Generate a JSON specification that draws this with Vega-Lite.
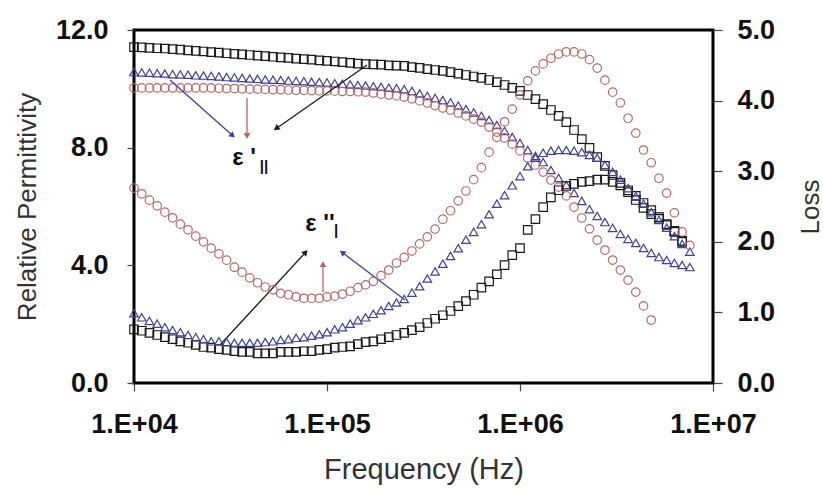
{
  "$schema": "https://vega.github.io/schema/vega-lite/v6.json",
  "width": 579,
  "height": 353,
  "autosize": {"type": "none"},
  "padding": {"left": 134, "top": 30, "right": 110, "bottom": 106},
  "background": "white",
  "config": {
    "view": {"stroke": "#000", "strokeWidth": 3},
    "font": "Liberation Sans",
    "axis": {"grid": false, "domain": false, "labelFont": "Liberation Sans", "labelFontWeight": "bold", "labelFontSize": 27, "labelColor": "#111", "titleFont": "Liberation Sans", "titleFontWeight": "normal", "titleColor": "#333", "titleFontSize": 26, "tickColor": "#444", "tickWidth": 1.2, "labelFlush": false, "labelOverlap": false},
    "axisLeft": {"tickSize": 7, "labelPadding": 19, "titleX": -107, "titleY": 176.5, "titleAngle": 270, "titleAlign": "center", "titleBaseline": "middle"},
    "axisRight": {"tickSize": 9, "labelPadding": 15, "titleX": 97, "titleY": 176.5, "titleAngle": 270, "titleAlign": "center", "titleBaseline": "middle"},
    "axisBottom": {"tickSize": 8, "labelPadding": 20, "titleFontSize": 29, "titleY": 86, "titleBaseline": "middle"}
  },
  "datasets": {
    "pts": [
      {"f":10000,"s":"A","q":"eps","v":11.42},{"f":10965,"s":"A","q":"eps","v":11.41},{"f":12023,"s":"A","q":"eps","v":11.39},{"f":13183,"s":"A","q":"eps","v":11.38},{"f":14454,"s":"A","q":"eps","v":11.37},{"f":15849,"s":"A","q":"eps","v":11.35},{"f":17378,"s":"A","q":"eps","v":11.33},{"f":19055,"s":"A","q":"eps","v":11.31},{"f":20893,"s":"A","q":"eps","v":11.29},{"f":22909,"s":"A","q":"eps","v":11.27},
      {"f":25119,"s":"A","q":"eps","v":11.25},{"f":27542,"s":"A","q":"eps","v":11.23},{"f":30200,"s":"A","q":"eps","v":11.21},{"f":33113,"s":"A","q":"eps","v":11.19},{"f":36308,"s":"A","q":"eps","v":11.17},{"f":39811,"s":"A","q":"eps","v":11.15},{"f":43652,"s":"A","q":"eps","v":11.13},{"f":47863,"s":"A","q":"eps","v":11.11},{"f":52481,"s":"A","q":"eps","v":11.09},{"f":57544,"s":"A","q":"eps","v":11.07},
      {"f":63096,"s":"A","q":"eps","v":11.05},{"f":69183,"s":"A","q":"eps","v":11.03},{"f":75858,"s":"A","q":"eps","v":11.01},{"f":83176,"s":"A","q":"eps","v":10.99},{"f":91201,"s":"A","q":"eps","v":10.97},{"f":100000,"s":"A","q":"eps","v":10.95},{"f":109648,"s":"A","q":"eps","v":10.93},{"f":120226,"s":"A","q":"eps","v":10.91},{"f":131826,"s":"A","q":"eps","v":10.88},{"f":144544,"s":"A","q":"eps","v":10.86},
      {"f":158489,"s":"A","q":"eps","v":10.84},{"f":173780,"s":"A","q":"eps","v":10.83},{"f":190546,"s":"A","q":"eps","v":10.82},{"f":208930,"s":"A","q":"eps","v":10.80},{"f":229087,"s":"A","q":"eps","v":10.79},{"f":251189,"s":"A","q":"eps","v":10.78},{"f":275423,"s":"A","q":"eps","v":10.74},{"f":301995,"s":"A","q":"eps","v":10.71},{"f":331131,"s":"A","q":"eps","v":10.67},{"f":363078,"s":"A","q":"eps","v":10.64},
      {"f":398107,"s":"A","q":"eps","v":10.61},{"f":436516,"s":"A","q":"eps","v":10.57},{"f":478630,"s":"A","q":"eps","v":10.52},{"f":524807,"s":"A","q":"eps","v":10.47},{"f":575440,"s":"A","q":"eps","v":10.42},{"f":630957,"s":"A","q":"eps","v":10.37},{"f":691831,"s":"A","q":"eps","v":10.30},{"f":758578,"s":"A","q":"eps","v":10.23},{"f":831764,"s":"A","q":"eps","v":10.13},{"f":912011,"s":"A","q":"eps","v":10.03},
      {"f":1000000,"s":"A","q":"eps","v":9.93},{"f":1096478,"s":"A","q":"eps","v":9.79},{"f":1202264,"s":"A","q":"eps","v":9.65},{"f":1318257,"s":"A","q":"eps","v":9.48},{"f":1445440,"s":"A","q":"eps","v":9.28},{"f":1584893,"s":"A","q":"eps","v":9.08},{"f":1737801,"s":"A","q":"eps","v":8.87},{"f":1905461,"s":"A","q":"eps","v":8.60},{"f":2089296,"s":"A","q":"eps","v":8.29},{"f":2290868,"s":"A","q":"eps","v":7.99},
      {"f":2511886,"s":"A","q":"eps","v":7.68},{"f":2754229,"s":"A","q":"eps","v":7.38},{"f":3019952,"s":"A","q":"eps","v":7.07},{"f":3311311,"s":"A","q":"eps","v":6.80},{"f":3630781,"s":"A","q":"eps","v":6.49},{"f":3981072,"s":"A","q":"eps","v":6.22},{"f":4365158,"s":"A","q":"eps","v":5.95},{"f":4786301,"s":"A","q":"eps","v":5.74},{"f":5248075,"s":"A","q":"eps","v":5.58},{"f":5754399,"s":"A","q":"eps","v":5.37},
      {"f":6309573,"s":"A","q":"eps","v":5.17},{"f":6918310,"s":"A","q":"eps","v":4.83},

      {"f":10000,"s":"A","q":"loss","v":0.76},{"f":10965,"s":"A","q":"loss","v":0.74},{"f":12023,"s":"A","q":"loss","v":0.71},{"f":13183,"s":"A","q":"loss","v":0.68},{"f":14454,"s":"A","q":"loss","v":0.65},{"f":15849,"s":"A","q":"loss","v":0.62},{"f":17378,"s":"A","q":"loss","v":0.59},{"f":19055,"s":"A","q":"loss","v":0.57},{"f":20893,"s":"A","q":"loss","v":0.54},{"f":22909,"s":"A","q":"loss","v":0.51},
      {"f":25119,"s":"A","q":"loss","v":0.50},{"f":27542,"s":"A","q":"loss","v":0.48},{"f":30200,"s":"A","q":"loss","v":0.47},{"f":33113,"s":"A","q":"loss","v":0.45},{"f":36308,"s":"A","q":"loss","v":0.44},{"f":39811,"s":"A","q":"loss","v":0.44},{"f":43652,"s":"A","q":"loss","v":0.42},{"f":47863,"s":"A","q":"loss","v":0.42},{"f":52481,"s":"A","q":"loss","v":0.42},{"f":57544,"s":"A","q":"loss","v":0.44},
      {"f":63096,"s":"A","q":"loss","v":0.44},{"f":69183,"s":"A","q":"loss","v":0.44},{"f":75858,"s":"A","q":"loss","v":0.45},{"f":83176,"s":"A","q":"loss","v":0.45},{"f":91201,"s":"A","q":"loss","v":0.47},{"f":100000,"s":"A","q":"loss","v":0.48},{"f":109648,"s":"A","q":"loss","v":0.50},{"f":120226,"s":"A","q":"loss","v":0.51},{"f":131826,"s":"A","q":"loss","v":0.52},{"f":144544,"s":"A","q":"loss","v":0.55},
      {"f":158489,"s":"A","q":"loss","v":0.58},{"f":173780,"s":"A","q":"loss","v":0.59},{"f":190546,"s":"A","q":"loss","v":0.62},{"f":208930,"s":"A","q":"loss","v":0.65},{"f":229087,"s":"A","q":"loss","v":0.68},{"f":251189,"s":"A","q":"loss","v":0.71},{"f":275423,"s":"A","q":"loss","v":0.75},{"f":301995,"s":"A","q":"loss","v":0.79},{"f":331131,"s":"A","q":"loss","v":0.85},{"f":363078,"s":"A","q":"loss","v":0.91},
      {"f":398107,"s":"A","q":"loss","v":0.96},{"f":436516,"s":"A","q":"loss","v":1.02},{"f":478630,"s":"A","q":"loss","v":1.09},{"f":524807,"s":"A","q":"loss","v":1.16},{"f":575440,"s":"A","q":"loss","v":1.25},{"f":630957,"s":"A","q":"loss","v":1.35},{"f":691831,"s":"A","q":"loss","v":1.44},{"f":758578,"s":"A","q":"loss","v":1.54},{"f":831764,"s":"A","q":"loss","v":1.67},{"f":912011,"s":"A","q":"loss","v":1.81},
      {"f":1000000,"s":"A","q":"loss","v":1.91},{"f":1096478,"s":"A","q":"loss","v":2.17},{"f":1202264,"s":"A","q":"loss","v":2.32},{"f":1318257,"s":"A","q":"loss","v":2.49},{"f":1445440,"s":"A","q":"loss","v":2.63},{"f":1584893,"s":"A","q":"loss","v":2.73},{"f":1737801,"s":"A","q":"loss","v":2.79},{"f":1905461,"s":"A","q":"loss","v":2.82},{"f":2089296,"s":"A","q":"loss","v":2.85},{"f":2290868,"s":"A","q":"loss","v":2.86},
      {"f":2511886,"s":"A","q":"loss","v":2.88},{"f":2754229,"s":"A","q":"loss","v":2.88},{"f":3019952,"s":"A","q":"loss","v":2.85},{"f":3311311,"s":"A","q":"loss","v":2.80},{"f":3630781,"s":"A","q":"loss","v":2.73},{"f":3981072,"s":"A","q":"loss","v":2.65},{"f":4365158,"s":"A","q":"loss","v":2.55},{"f":4786301,"s":"A","q":"loss","v":2.45},{"f":5248075,"s":"A","q":"loss","v":2.35},{"f":5754399,"s":"A","q":"loss","v":2.25},
      {"f":6309573,"s":"A","q":"loss","v":2.14},{"f":6918310,"s":"A","q":"loss","v":2.00},

      {"f":10000,"s":"B","q":"eps","v":10.57},{"f":10965,"s":"B","q":"eps","v":10.56},{"f":12023,"s":"B","q":"eps","v":10.55},{"f":13183,"s":"B","q":"eps","v":10.53},{"f":14454,"s":"B","q":"eps","v":10.52},{"f":15849,"s":"B","q":"eps","v":10.50},{"f":17378,"s":"B","q":"eps","v":10.49},{"f":19055,"s":"B","q":"eps","v":10.48},{"f":20893,"s":"B","q":"eps","v":10.46},{"f":22909,"s":"B","q":"eps","v":10.45},
      {"f":25119,"s":"B","q":"eps","v":10.44},{"f":27542,"s":"B","q":"eps","v":10.42},{"f":30200,"s":"B","q":"eps","v":10.40},{"f":33113,"s":"B","q":"eps","v":10.39},{"f":36308,"s":"B","q":"eps","v":10.37},{"f":39811,"s":"B","q":"eps","v":10.35},{"f":43652,"s":"B","q":"eps","v":10.34},{"f":47863,"s":"B","q":"eps","v":10.32},{"f":52481,"s":"B","q":"eps","v":10.31},{"f":57544,"s":"B","q":"eps","v":10.30},
      {"f":63096,"s":"B","q":"eps","v":10.28},{"f":69183,"s":"B","q":"eps","v":10.27},{"f":75858,"s":"B","q":"eps","v":10.26},{"f":83176,"s":"B","q":"eps","v":10.24},{"f":91201,"s":"B","q":"eps","v":10.23},{"f":100000,"s":"B","q":"eps","v":10.22},{"f":109648,"s":"B","q":"eps","v":10.19},{"f":120226,"s":"B","q":"eps","v":10.17},{"f":131826,"s":"B","q":"eps","v":10.15},{"f":144544,"s":"B","q":"eps","v":10.13},
      {"f":158489,"s":"B","q":"eps","v":10.11},{"f":173780,"s":"B","q":"eps","v":10.09},{"f":190546,"s":"B","q":"eps","v":10.07},{"f":208930,"s":"B","q":"eps","v":10.04},{"f":229087,"s":"B","q":"eps","v":10.02},{"f":251189,"s":"B","q":"eps","v":9.99},{"f":275423,"s":"B","q":"eps","v":9.93},{"f":301995,"s":"B","q":"eps","v":9.84},{"f":331131,"s":"B","q":"eps","v":9.76},{"f":363078,"s":"B","q":"eps","v":9.69},
      {"f":398107,"s":"B","q":"eps","v":9.62},{"f":436516,"s":"B","q":"eps","v":9.54},{"f":478630,"s":"B","q":"eps","v":9.43},{"f":524807,"s":"B","q":"eps","v":9.31},{"f":575440,"s":"B","q":"eps","v":9.20},{"f":630957,"s":"B","q":"eps","v":9.08},{"f":691831,"s":"B","q":"eps","v":8.94},{"f":758578,"s":"B","q":"eps","v":8.77},{"f":831764,"s":"B","q":"eps","v":8.57},{"f":912011,"s":"B","q":"eps","v":8.36},
      {"f":1000000,"s":"B","q":"eps","v":8.16},{"f":1096478,"s":"B","q":"eps","v":7.92},{"f":1202264,"s":"B","q":"eps","v":7.72},{"f":1318257,"s":"B","q":"eps","v":7.51},{"f":1445440,"s":"B","q":"eps","v":7.24},{"f":1584893,"s":"B","q":"eps","v":6.97},{"f":1737801,"s":"B","q":"eps","v":6.73},{"f":1905461,"s":"B","q":"eps","v":6.46},{"f":2089296,"s":"B","q":"eps","v":6.19},{"f":2290868,"s":"B","q":"eps","v":5.91},
      {"f":2511886,"s":"B","q":"eps","v":5.68},{"f":2754229,"s":"B","q":"eps","v":5.47},{"f":3019952,"s":"B","q":"eps","v":5.27},{"f":3311311,"s":"B","q":"eps","v":5.07},{"f":3630781,"s":"B","q":"eps","v":4.90},{"f":3981072,"s":"B","q":"eps","v":4.76},{"f":4365158,"s":"B","q":"eps","v":4.59},{"f":4786301,"s":"B","q":"eps","v":4.42},{"f":5248075,"s":"B","q":"eps","v":4.28},{"f":5754399,"s":"B","q":"eps","v":4.18},
      {"f":6309573,"s":"B","q":"eps","v":4.08},{"f":6918310,"s":"B","q":"eps","v":4.01},{"f":7585776,"s":"B","q":"eps","v":3.94},

      {"f":10000,"s":"B","q":"loss","v":0.99},{"f":10965,"s":"B","q":"loss","v":0.93},{"f":12023,"s":"B","q":"loss","v":0.88},{"f":13183,"s":"B","q":"loss","v":0.84},{"f":14454,"s":"B","q":"loss","v":0.79},{"f":15849,"s":"B","q":"loss","v":0.75},{"f":17378,"s":"B","q":"loss","v":0.72},{"f":19055,"s":"B","q":"loss","v":0.68},{"f":20893,"s":"B","q":"loss","v":0.65},{"f":22909,"s":"B","q":"loss","v":0.62},
      {"f":25119,"s":"B","q":"loss","v":0.59},{"f":27542,"s":"B","q":"loss","v":0.59},{"f":30200,"s":"B","q":"loss","v":0.58},{"f":33113,"s":"B","q":"loss","v":0.57},{"f":36308,"s":"B","q":"loss","v":0.57},{"f":39811,"s":"B","q":"loss","v":0.57},{"f":43652,"s":"B","q":"loss","v":0.57},{"f":47863,"s":"B","q":"loss","v":0.58},{"f":52481,"s":"B","q":"loss","v":0.59},{"f":57544,"s":"B","q":"loss","v":0.61},
      {"f":63096,"s":"B","q":"loss","v":0.62},{"f":69183,"s":"B","q":"loss","v":0.64},{"f":75858,"s":"B","q":"loss","v":0.65},{"f":83176,"s":"B","q":"loss","v":0.67},{"f":91201,"s":"B","q":"loss","v":0.69},{"f":100000,"s":"B","q":"loss","v":0.72},{"f":109648,"s":"B","q":"loss","v":0.76},{"f":120226,"s":"B","q":"loss","v":0.79},{"f":131826,"s":"B","q":"loss","v":0.84},{"f":144544,"s":"B","q":"loss","v":0.89},
      {"f":158489,"s":"B","q":"loss","v":0.93},{"f":173780,"s":"B","q":"loss","v":0.98},{"f":190546,"s":"B","q":"loss","v":1.03},{"f":208930,"s":"B","q":"loss","v":1.09},{"f":229087,"s":"B","q":"loss","v":1.14},{"f":251189,"s":"B","q":"loss","v":1.19},{"f":275423,"s":"B","q":"loss","v":1.28},{"f":301995,"s":"B","q":"loss","v":1.37},{"f":331131,"s":"B","q":"loss","v":1.48},{"f":363078,"s":"B","q":"loss","v":1.58},
      {"f":398107,"s":"B","q":"loss","v":1.69},{"f":436516,"s":"B","q":"loss","v":1.80},{"f":478630,"s":"B","q":"loss","v":1.91},{"f":524807,"s":"B","q":"loss","v":2.03},{"f":575440,"s":"B","q":"loss","v":2.14},{"f":630957,"s":"B","q":"loss","v":2.25},{"f":691831,"s":"B","q":"loss","v":2.39},{"f":758578,"s":"B","q":"loss","v":2.54},{"f":831764,"s":"B","q":"loss","v":2.66},{"f":912011,"s":"B","q":"loss","v":2.80},
      {"f":1000000,"s":"B","q":"loss","v":2.93},{"f":1096478,"s":"B","q":"loss","v":3.07},{"f":1202264,"s":"B","q":"loss","v":3.19},{"f":1318257,"s":"B","q":"loss","v":3.26},{"f":1445440,"s":"B","q":"loss","v":3.29},{"f":1584893,"s":"B","q":"loss","v":3.30},{"f":1737801,"s":"B","q":"loss","v":3.30},{"f":1905461,"s":"B","q":"loss","v":3.29},{"f":2089296,"s":"B","q":"loss","v":3.27},{"f":2290868,"s":"B","q":"loss","v":3.23},
      {"f":2511886,"s":"B","q":"loss","v":3.19},{"f":2754229,"s":"B","q":"loss","v":3.09},{"f":3019952,"s":"B","q":"loss","v":2.99},{"f":3311311,"s":"B","q":"loss","v":2.88},{"f":3630781,"s":"B","q":"loss","v":2.76},{"f":3981072,"s":"B","q":"loss","v":2.65},{"f":4365158,"s":"B","q":"loss","v":2.54},{"f":4786301,"s":"B","q":"loss","v":2.42},{"f":5248075,"s":"B","q":"loss","v":2.31},{"f":5754399,"s":"B","q":"loss","v":2.20},
      {"f":6309573,"s":"B","q":"loss","v":2.08},{"f":6918310,"s":"B","q":"loss","v":1.97},{"f":7585776,"s":"B","q":"loss","v":1.86},

      {"f":10000,"s":"C","q":"eps","v":10.03},{"f":10965,"s":"C","q":"eps","v":10.03},{"f":12023,"s":"C","q":"eps","v":10.03},{"f":13183,"s":"C","q":"eps","v":10.03},{"f":14454,"s":"C","q":"eps","v":10.03},{"f":15849,"s":"C","q":"eps","v":10.03},{"f":17378,"s":"C","q":"eps","v":10.03},{"f":19055,"s":"C","q":"eps","v":10.03},{"f":20893,"s":"C","q":"eps","v":10.03},{"f":22909,"s":"C","q":"eps","v":10.03},
      {"f":25119,"s":"C","q":"eps","v":10.03},{"f":27542,"s":"C","q":"eps","v":10.02},{"f":30200,"s":"C","q":"eps","v":10.01},{"f":33113,"s":"C","q":"eps","v":10.01},{"f":36308,"s":"C","q":"eps","v":10.00},{"f":39811,"s":"C","q":"eps","v":9.99},{"f":43652,"s":"C","q":"eps","v":9.99},{"f":47863,"s":"C","q":"eps","v":9.98},{"f":52481,"s":"C","q":"eps","v":9.97},{"f":57544,"s":"C","q":"eps","v":9.97},
      {"f":63096,"s":"C","q":"eps","v":9.96},{"f":69183,"s":"C","q":"eps","v":9.95},{"f":75858,"s":"C","q":"eps","v":9.95},{"f":83176,"s":"C","q":"eps","v":9.94},{"f":91201,"s":"C","q":"eps","v":9.93},{"f":100000,"s":"C","q":"eps","v":9.93},{"f":109648,"s":"C","q":"eps","v":9.92},{"f":120226,"s":"C","q":"eps","v":9.91},{"f":131826,"s":"C","q":"eps","v":9.91},{"f":144544,"s":"C","q":"eps","v":9.90},
      {"f":158489,"s":"C","q":"eps","v":9.89},{"f":173780,"s":"C","q":"eps","v":9.86},{"f":190546,"s":"C","q":"eps","v":9.82},{"f":208930,"s":"C","q":"eps","v":9.79},{"f":229087,"s":"C","q":"eps","v":9.76},{"f":251189,"s":"C","q":"eps","v":9.72},{"f":275423,"s":"C","q":"eps","v":9.66},{"f":301995,"s":"C","q":"eps","v":9.59},{"f":331131,"s":"C","q":"eps","v":9.52},{"f":363078,"s":"C","q":"eps","v":9.43},
      {"f":398107,"s":"C","q":"eps","v":9.35},{"f":436516,"s":"C","q":"eps","v":9.28},{"f":478630,"s":"C","q":"eps","v":9.18},{"f":524807,"s":"C","q":"eps","v":9.08},{"f":575440,"s":"C","q":"eps","v":8.97},{"f":630957,"s":"C","q":"eps","v":8.87},{"f":691831,"s":"C","q":"eps","v":8.70},{"f":758578,"s":"C","q":"eps","v":8.53},{"f":831764,"s":"C","q":"eps","v":8.33},{"f":912011,"s":"C","q":"eps","v":8.12},
      {"f":1000000,"s":"C","q":"eps","v":7.89},{"f":1096478,"s":"C","q":"eps","v":7.65},{"f":1202264,"s":"C","q":"eps","v":7.41},{"f":1318257,"s":"C","q":"eps","v":7.17},{"f":1445440,"s":"C","q":"eps","v":6.90},{"f":1584893,"s":"C","q":"eps","v":6.66},{"f":1737801,"s":"C","q":"eps","v":6.36},{"f":1905461,"s":"C","q":"eps","v":5.98},{"f":2089296,"s":"C","q":"eps","v":5.61},{"f":2290868,"s":"C","q":"eps","v":5.24},
      {"f":2511886,"s":"C","q":"eps","v":4.86},{"f":2754229,"s":"C","q":"eps","v":4.52},{"f":3019952,"s":"C","q":"eps","v":4.18},{"f":3311311,"s":"C","q":"eps","v":3.84},{"f":3630781,"s":"C","q":"eps","v":3.50},{"f":3981072,"s":"C","q":"eps","v":3.09},{"f":4365158,"s":"C","q":"eps","v":2.62},{"f":4786301,"s":"C","q":"eps","v":2.14},

      {"f":10000,"s":"C","q":"loss","v":2.76},{"f":10965,"s":"C","q":"loss","v":2.68},{"f":12023,"s":"C","q":"loss","v":2.59},{"f":13183,"s":"C","q":"loss","v":2.51},{"f":14454,"s":"C","q":"loss","v":2.42},{"f":15849,"s":"C","q":"loss","v":2.34},{"f":17378,"s":"C","q":"loss","v":2.25},{"f":19055,"s":"C","q":"loss","v":2.17},{"f":20893,"s":"C","q":"loss","v":2.08},{"f":22909,"s":"C","q":"loss","v":2.00},
      {"f":25119,"s":"C","q":"loss","v":1.91},{"f":27542,"s":"C","q":"loss","v":1.83},{"f":30200,"s":"C","q":"loss","v":1.74},{"f":33113,"s":"C","q":"loss","v":1.64},{"f":36308,"s":"C","q":"loss","v":1.57},{"f":39811,"s":"C","q":"loss","v":1.49},{"f":43652,"s":"C","q":"loss","v":1.42},{"f":47863,"s":"C","q":"loss","v":1.36},{"f":52481,"s":"C","q":"loss","v":1.32},{"f":57544,"s":"C","q":"loss","v":1.27},
      {"f":63096,"s":"C","q":"loss","v":1.25},{"f":69183,"s":"C","q":"loss","v":1.22},{"f":75858,"s":"C","q":"loss","v":1.20},{"f":83176,"s":"C","q":"loss","v":1.20},{"f":91201,"s":"C","q":"loss","v":1.20},{"f":100000,"s":"C","q":"loss","v":1.22},{"f":109648,"s":"C","q":"loss","v":1.23},{"f":120226,"s":"C","q":"loss","v":1.26},{"f":131826,"s":"C","q":"loss","v":1.30},{"f":144544,"s":"C","q":"loss","v":1.35},
      {"f":158489,"s":"C","q":"loss","v":1.39},{"f":173780,"s":"C","q":"loss","v":1.44},{"f":190546,"s":"C","q":"loss","v":1.52},{"f":208930,"s":"C","q":"loss","v":1.60},{"f":229087,"s":"C","q":"loss","v":1.70},{"f":251189,"s":"C","q":"loss","v":1.78},{"f":275423,"s":"C","q":"loss","v":1.87},{"f":301995,"s":"C","q":"loss","v":1.97},{"f":331131,"s":"C","q":"loss","v":2.07},{"f":363078,"s":"C","q":"loss","v":2.18},
      {"f":398107,"s":"C","q":"loss","v":2.32},{"f":436516,"s":"C","q":"loss","v":2.44},{"f":478630,"s":"C","q":"loss","v":2.58},{"f":524807,"s":"C","q":"loss","v":2.72},{"f":575440,"s":"C","q":"loss","v":2.88},{"f":630957,"s":"C","q":"loss","v":3.05},{"f":691831,"s":"C","q":"loss","v":3.27},{"f":758578,"s":"C","q":"loss","v":3.48},{"f":831764,"s":"C","q":"loss","v":3.70},{"f":912011,"s":"C","q":"loss","v":3.88},
      {"f":1000000,"s":"C","q":"loss","v":4.08},{"f":1096478,"s":"C","q":"loss","v":4.28},{"f":1202264,"s":"C","q":"loss","v":4.42},{"f":1318257,"s":"C","q":"loss","v":4.52},{"f":1445440,"s":"C","q":"loss","v":4.60},{"f":1584893,"s":"C","q":"loss","v":4.66},{"f":1737801,"s":"C","q":"loss","v":4.69},{"f":1905461,"s":"C","q":"loss","v":4.69},{"f":2089296,"s":"C","q":"loss","v":4.66},{"f":2290868,"s":"C","q":"loss","v":4.58},
      {"f":2511886,"s":"C","q":"loss","v":4.46},{"f":2754229,"s":"C","q":"loss","v":4.29},{"f":3019952,"s":"C","q":"loss","v":4.12},{"f":3311311,"s":"C","q":"loss","v":3.97},{"f":3630781,"s":"C","q":"loss","v":3.75},{"f":3981072,"s":"C","q":"loss","v":3.54},{"f":4365158,"s":"C","q":"loss","v":3.30},{"f":4786301,"s":"C","q":"loss","v":3.12},{"f":5248075,"s":"C","q":"loss","v":2.90},{"f":5754399,"s":"C","q":"loss","v":2.69},
      {"f":6309573,"s":"C","q":"loss","v":2.41},{"f":6918310,"s":"C","q":"loss","v":2.14},{"f":7585776,"s":"C","q":"loss","v":1.95}
    ],
    "arrows": [
      {"s":"B","f":15370,"v":10.30,"f2":32190,"v2":8.43,"heading":132},
      {"s":"C","f":38500,"v":9.69,"f2":38500,"v2":8.43,"heading":180},
      {"s":"A","f":161200,"v":10.81,"f2":55080,"v2":8.67,"heading":235},
      {"s":"A","f":27900,"v":1.29,"f2":76900,"v2":4.42,"heading":43},
      {"s":"C","f":95300,"v":3.09,"f2":95300,"v2":4.01,"heading":0},
      {"s":"B","f":253600,"v":2.82,"f2":121000,"v2":4.42,"heading":307}
    ],
    "labels": [
      {"f":37150,"v":7.65,"t":"ε '"},
      {"f":91990,"v":5.41,"t":"ε ''"}
    ],
    "subs": [
      {"f":47180,"v":7.38,"t":"||"},
      {"f":111300,"v":5.20,"t":"|"}
    ]
  },
  "layer": [
    {
      "layer": [
        {
          "data": {"name": "pts"},
          "transform": [{"filter": "datum.q === 'eps'"}],
          "mark": {"type": "point", "filled": false, "strokeWidth": 1.2, "size": 72, "opacity": 1},
          "encoding": {
            "x": {"field": "f", "type": "quantitative", "scale": {"type": "log", "domain": [10000, 10000000], "nice": false}, "axis": {"title": "Frequency (Hz)", "values": [10000, 100000, 1000000, 10000000], "labelExpr": "'1.E+0' + round(log(datum.value) / LN10)"}},
            "y": {"field": "v", "type": "quantitative", "scale": {"domain": [0, 12], "nice": false}, "axis": {"title": "Relative  Permittivity", "values": [0, 4, 8, 12], "format": ".1f"}},
            "shape": {"field": "s", "type": "nominal", "scale": {"domain": ["A", "B", "C"], "range": ["square", "triangle-up", "circle"]}, "legend": null},
            "color": {"field": "s", "type": "nominal", "scale": {"domain": ["A", "B", "C"], "range": ["#1a1a1a", "#3f4392", "#b36a6a"]}, "legend": null}
          }
        },
        {
          "data": {"name": "arrows"},
          "mark": {"type": "rule", "strokeWidth": 1.3},
          "encoding": {
            "x": {"field": "f", "type": "quantitative"},
            "x2": {"field": "f2"},
            "y": {"field": "v", "type": "quantitative"},
            "y2": {"field": "v2"},
            "color": {"field": "s", "type": "nominal", "legend": null}
          }
        },
        {
          "data": {"name": "arrows"},
          "mark": {"type": "point", "shape": "triangle", "filled": true, "size": 45, "opacity": 1},
          "encoding": {
            "x": {"field": "f2", "type": "quantitative"},
            "y": {"field": "v2", "type": "quantitative"},
            "angle": {"field": "heading", "type": "quantitative", "scale": null},
            "color": {"field": "s", "type": "nominal", "legend": null}
          }
        },
        {
          "data": {"name": "labels"},
          "mark": {"type": "text", "font": "Liberation Sans", "fontSize": 24, "fontWeight": "bold", "color": "#111", "align": "center", "baseline": "middle"},
          "encoding": {
            "x": {"field": "f", "type": "quantitative"},
            "y": {"field": "v", "type": "quantitative"},
            "text": {"field": "t"}
          }
        },
        {
          "data": {"name": "subs"},
          "mark": {"type": "text", "font": "Liberation Sans", "fontSize": 15, "fontWeight": "bold", "color": "#111", "align": "center", "baseline": "middle"},
          "encoding": {
            "x": {"field": "f", "type": "quantitative"},
            "y": {"field": "v", "type": "quantitative"},
            "text": {"field": "t"}
          }
        }
      ]
    },
    {
      "data": {"name": "pts"},
      "transform": [{"filter": "datum.q === 'loss'"}],
      "mark": {"type": "point", "filled": false, "strokeWidth": 1.2, "size": 72, "opacity": 1},
      "encoding": {
        "x": {"field": "f", "type": "quantitative"},
        "y": {"field": "v", "type": "quantitative", "scale": {"domain": [0, 5], "nice": false}, "axis": {"orient": "right", "title": "Loss", "values": [0, 1, 2, 3, 4, 5], "format": ".1f"}},
        "shape": {"field": "s", "type": "nominal", "legend": null},
        "color": {"field": "s", "type": "nominal", "legend": null}
      }
    }
  ],
  "resolve": {"scale": {"y": "independent"}}
}
